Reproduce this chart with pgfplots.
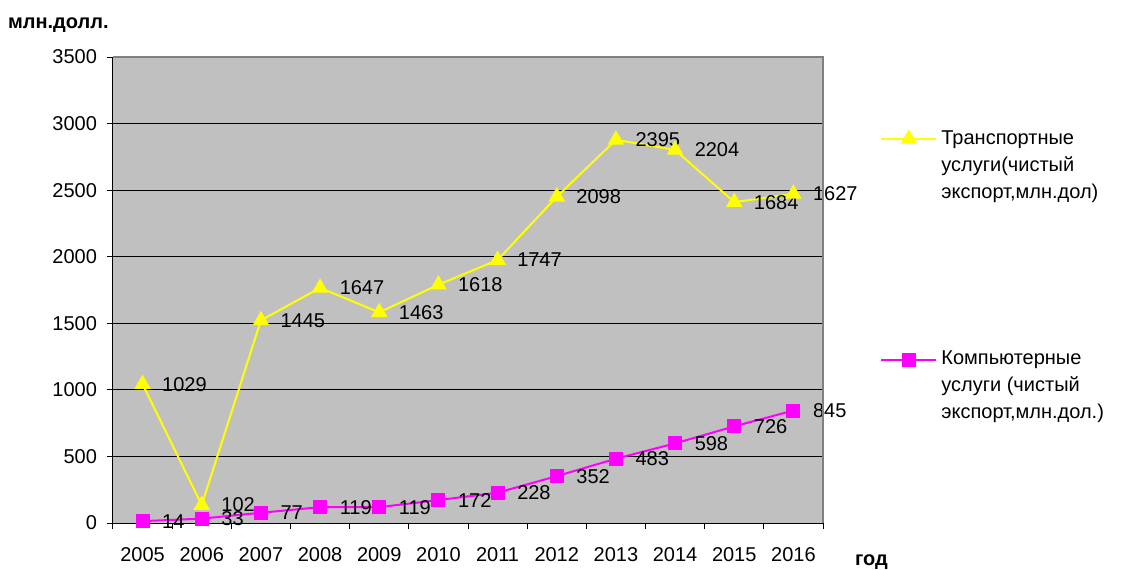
\documentclass[border=0pt]{standalone}
\usepackage{fontspec}
\setmainfont{Liberation Sans}
\usepackage{pgfplots}
\pgfplotsset{compat=1.18}
\usepackage{pgfplotstable}
\definecolor{plotgray}{HTML}{C0C0C0}
\definecolor{borgray}{HTML}{808080}
\definecolor{yel}{HTML}{FFFF00}
\definecolor{mag}{HTML}{FF00FF}

\pgfplotstableread{
x comp trans
0 14 1029
1 33 102
2 77 1445
3 119 1647
4 119 1463
5 172 1618
6 228 1747
7 352 2098
8 483 2395
9 598 2204
10 726 1684
11 845 1627
}\data

\begin{document}
\begin{tikzpicture}
\path[use as bounding box] (-56.5pt,-23pt) rectangle (506pt,261.5pt);
\begin{axis}[
  at={(0,0)}, anchor=south west,
  scale only axis, width=355pt, height=233pt,
  xmin=-0.5, xmax=11.5, ymin=0, ymax=3500,
  xtick={-0.5,0.5,...,11.5},
  xticklabels={2005,2006,2007,2008,2009,2010,2011,2012,2013,2014,2015,2016,{}},
  xticklabel style={xshift=14.79pt, yshift=-5.5pt},
  yticklabel style={xshift=-1.5pt},
  ytick={0,500,...,3500},
  tick align=outside, major tick length=3pt,
  axis x line*=bottom, axis y line*=left,
  axis line style={black,-, line width=0.5pt},
  ymajorgrids, grid style={black, line width=0.5pt},
  axis background/.style={fill=plotgray},
  tick style={black, line width=0.5pt},
  ticklabel style={font=\fontsize{10}{12}\selectfont},
  /pgf/number format/assume math mode=true,
  /pgf/number format/1000 sep={},
  stack plots=y,
  point meta=explicit,
  nodes near coords,
  nodes near coords align=horizontal,
  every node near coord/.append style={xshift=6pt, black, font=\fontsize{10}{12}\selectfont},
  reverse legend,
  legend image code/.code={\draw[mark repeat=2,mark phase=2,#1] plot coordinates {(0pt,13.5pt) (13.75pt,13.5pt) (27.5pt,13.5pt)};},
  legend style={at={(1.0718,0.8605)}, anchor=north west, draw=none, fill=none,
    font=\fontsize{10}{13.5}\selectfont, row sep=71pt, column sep=0pt,
    cells={anchor=west, align=left}},
  after end axis/.code={\draw[borgray, line width=0.75pt] (rel axis cs:0,1) -- (rel axis cs:1,1) -- (rel axis cs:1,0);},
]
\addplot[mag, line width=1pt, mark=square*, mark size=3pt, mark options={solid, fill=mag, draw=mag}]
  table[x=x, y=comp, meta=comp] {\data};
\addlegendentry{Компьютерные\\услуги (чистый\\экспорт,млн.дол.)}
\addplot[yel, line width=1pt, mark=triangle*, mark size=3.8pt, mark options={solid, fill=yel, draw=yel}]
  table[x=x, y=trans, meta=trans] {\data};
\addlegendentry{Транспортные\\услуги(чистый\\экспорт,млн.дол)}
\end{axis}
\node[anchor=west, font=\bfseries\fontsize{10}{12}\selectfont] at (-56pt,249pt) {млн.долл.};
\node[anchor=west, font=\bfseries\fontsize{10}{12}\selectfont] at (367.5pt,-19.5pt) {год};
\end{tikzpicture}
\end{document}
